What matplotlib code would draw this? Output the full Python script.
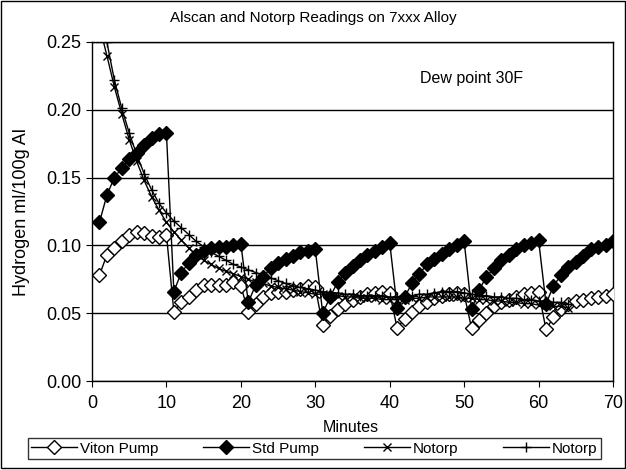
import matplotlib
matplotlib.use("Agg")
import matplotlib.pyplot as plt
from matplotlib.patches import Rectangle

plt.rcParams['font.family'] = ['Liberation Sans', 'DejaVu Sans']

minutes_70 = list(range(1, 71))
minutes_64 = list(range(1, 65))

viton_pump = [0.078, 0.093, 0.098, 0.103, 0.108, 0.110, 0.109, 0.107, 0.106, 0.108,
              0.051, 0.058, 0.062, 0.067, 0.071, 0.071, 0.071, 0.071, 0.073, 0.070,
              0.051, 0.057, 0.062, 0.065, 0.066, 0.066, 0.067, 0.068, 0.070, 0.069,
              0.041, 0.048, 0.053, 0.057, 0.060, 0.062, 0.064, 0.065, 0.066, 0.065,
              0.039, 0.046, 0.051, 0.055, 0.058, 0.061, 0.063, 0.064, 0.065, 0.064,
              0.039, 0.045, 0.050, 0.055, 0.058, 0.060, 0.062, 0.064, 0.065, 0.066,
              0.038, 0.047, 0.053, 0.057, 0.059, 0.060, 0.061, 0.062, 0.063, 0.064]

std_pump = [0.117, 0.137, 0.150, 0.157, 0.164, 0.168, 0.174, 0.179, 0.182, 0.183,
            0.066, 0.080, 0.087, 0.093, 0.096, 0.098, 0.099, 0.099, 0.100, 0.101,
            0.058, 0.071, 0.077, 0.083, 0.087, 0.090, 0.092, 0.095, 0.096, 0.097,
            0.050, 0.062, 0.073, 0.080, 0.085, 0.089, 0.093, 0.096, 0.099, 0.102,
            0.054, 0.062, 0.072, 0.079, 0.086, 0.090, 0.094, 0.097, 0.100, 0.103,
            0.053, 0.067, 0.077, 0.083, 0.089, 0.093, 0.097, 0.100, 0.102, 0.104,
            0.057, 0.070, 0.078, 0.084, 0.088, 0.092, 0.097, 0.099, 0.100, 0.103]

notorp_x = [0.262, 0.240, 0.217, 0.197, 0.178, 0.162, 0.148, 0.136, 0.126, 0.117,
            0.110, 0.104, 0.098, 0.093, 0.089, 0.086, 0.083, 0.081, 0.079, 0.077,
            0.075, 0.073, 0.072, 0.070, 0.069, 0.068, 0.067, 0.066, 0.065, 0.064,
            0.064, 0.063, 0.063, 0.062, 0.062, 0.061, 0.061, 0.061, 0.060, 0.060,
            0.060, 0.060, 0.061, 0.061, 0.062, 0.062, 0.062, 0.062, 0.062, 0.061,
            0.061, 0.060, 0.060, 0.059, 0.059, 0.058, 0.058, 0.057, 0.057, 0.056,
            0.056, 0.055, 0.055, 0.054]

notorp_plus = [0.275, 0.250, 0.222, 0.201, 0.183, 0.167, 0.153, 0.141, 0.131, 0.124,
               0.118, 0.113, 0.108, 0.103, 0.099, 0.095, 0.092, 0.089, 0.086, 0.084,
               0.082, 0.080, 0.078, 0.076, 0.074, 0.072, 0.070, 0.069, 0.068, 0.067,
               0.066, 0.065, 0.065, 0.064, 0.064, 0.063, 0.063, 0.063, 0.063, 0.062,
               0.062, 0.063, 0.063, 0.064, 0.064, 0.065, 0.066, 0.066, 0.066, 0.065,
               0.064, 0.063, 0.063, 0.062, 0.062, 0.061, 0.061, 0.060, 0.060, 0.059,
               0.059, 0.058, 0.058, 0.057]

x_ticks = [0, 10, 20, 30, 40, 50, 60, 70]
y_ticks = [0.00, 0.05, 0.10, 0.15, 0.20, 0.25]

fig = plt.figure(figsize=(6.26, 4.70), dpi=100)
ax = fig.add_axes([92/626, 1-381/470, (613-92)/626, (381-42)/470])

ax.plot(minutes_70, viton_pump, color='black', lw=1, marker='D', ms=7,
        mfc='white', mec='black', mew=1, label='Viton Pump', zorder=3)
ax.plot(minutes_70, std_pump, color='black', lw=1, marker='D', ms=7,
        mfc='black', mec='black', label='Std Pump', zorder=3)
ax.plot(minutes_64, notorp_x, color='black', lw=1, marker='x', ms=6,
        mew=1, label='Notorp', zorder=3)
ax.plot(minutes_64, notorp_plus, color='black', lw=1, marker='+', ms=7,
        mew=1, label='Notorp', zorder=3)

ax.set_xlim(0, 70)
ax.set_ylim(0, 0.25)
ax.set_xticks(x_ticks)
ax.set_yticks(y_ticks)
ax.set_yticklabels([f"{v:.2f}" for v in y_ticks])
ax.yaxis.grid(True, color='black', lw=1)
ax.set_axisbelow(True)
ax.tick_params(direction='out', length=4, labelsize=13, color='black')
ax.tick_params(axis='x', pad=6)
for s in ax.spines.values():
    s.set_color('black')
    s.set_linewidth(1)

fig.text(313/626, 1-18/470, 'Alscan and Notorp Readings on 7xxx Alloy',
         fontsize=11, ha='center', va='center')
fig.text(351/626, 1-427/470, 'Minutes', fontsize=11.5, ha='center', va='center')
fig.text(22/626, 1-212/470, 'Hydrogen ml/100g Al', fontsize=13, rotation=90,
         ha='center', va='center')
ax.text(0.63, 0.88, 'Dew point 30F', transform=ax.transAxes, fontsize=11.5)

leg = fig.legend(loc='lower left', bbox_to_anchor=(20/626, 3/470, 589/626, 28/470),
                 ncol=4, mode='expand', frameon=True, fancybox=False,
                 edgecolor='black', fontsize=11, handlelength=3,
                 borderpad=0.25, handletextpad=0.2)
leg.get_frame().set_linewidth(1)

fig.patches.append(Rectangle((0.002, 0.004), 0.996, 0.994, transform=fig.transFigure,
                             fill=False, edgecolor='black', lw=1))

fig.savefig('out.png', dpi=100)
